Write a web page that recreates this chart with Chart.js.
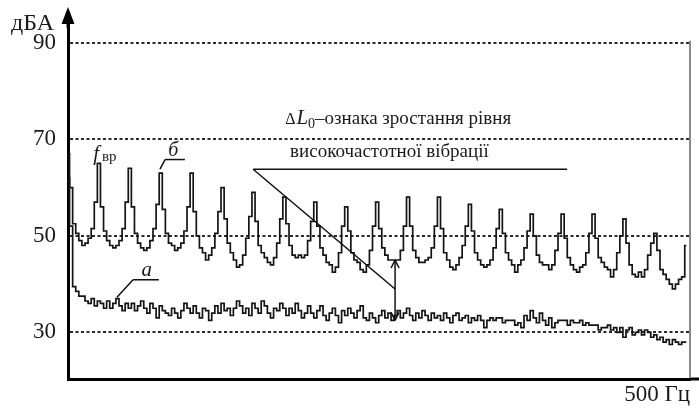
<!DOCTYPE html>
<html><head><meta charset="utf-8">
<script src="https://cdn.jsdelivr.net/npm/chart.js@4.4.1/dist/chart.umd.min.js"></script>
<style>html,body{margin:0;padding:0;background:#fff}#wrap{width:699px;height:410px;position:relative}</style>
</head><body><div id="wrap"><canvas id="c" width="699" height="410"></canvas></div>
<script>
// Frequency bin width (Hz); bins run 0..500 Hz
const BIN_HZ = 2.5;
// Y tick labels (dBA)
const yTicks = [30, 50, 70, 90];
// Curve "б": spectrum with peaks at multiples of f_вр (25 Hz)
const seriesB = [
  67, 60, 52.5, 50.5, 49, 48, 48.5, 49.5, 51.5, 57,
  65, 56, 51, 49, 48, 47.5, 48, 49, 51.5, 57,
  64, 56, 50.5, 48.5, 47.5, 47, 47.5, 49, 51.5, 56.5,
  63, 55.5, 50.5, 48.5, 48, 47, 47.5, 48.5, 51, 56,
  63, 55, 50, 47.5, 46.5, 45, 46, 47.5, 50.5, 55,
  60, 53.5, 48.5, 46.5, 45, 43.5, 44, 46, 49.5, 54,
  59, 53, 48, 46.5, 45.5, 44.5, 44, 45.5, 48.5, 53.5,
  58, 52.5, 48, 46, 45.5, 46, 45.5, 46, 49, 53,
  57, 52, 47.5, 46, 44.5, 44, 42.5, 43.5, 46.5, 52,
  56, 51, 46.5, 45, 44.5, 43, 42.5, 44, 47, 52,
  57, 51.5, 47.5, 46, 45, 45, 45, 45, 47, 52,
  58, 52, 47, 45.5, 44.5, 44.5, 45, 45.5, 47.5, 52,
  58, 51.5, 46.5, 45, 43.5, 43, 44, 45.5, 48, 52,
  56.5, 51, 46.5, 45, 44, 43.5, 44, 45, 47.5, 51.5,
  55.5, 50.5, 46.5, 45, 44, 42.5, 44, 45, 47.5, 51,
  54.5, 50, 46, 44.5, 44, 44, 43, 44, 47, 50.5,
  54.5, 49.5, 45.5, 44, 43, 42.5, 43.5, 44, 46.5, 50.5,
  54.5, 49.5, 45.5, 44.5, 43.5, 43, 41.5, 43, 46.5, 50,
  53.5, 48.5, 44, 42, 41.5, 42.5, 41.5, 43, 46, 48.5,
  50.5, 47, 43, 42, 41, 40, 39, 40, 41, 41.5,
  48
];
// Curve "а": background spectrum
const seriesA = [
  62, 52, 39.5, 38.5, 37.5, 37.5, 36.5, 36, 37, 35.5,
  36.5, 36, 35, 36.5, 35, 36, 37, 35.5, 34.5, 36,
  35, 36, 34.5, 35.5, 36.5, 35, 34, 36, 35, 33,
  35.5, 34.5, 34, 33.5, 35, 34, 33, 34.5, 36, 35,
  34, 35.5, 34, 33, 35, 34.5, 32.5, 34, 35.5, 34,
  36, 34.5, 35, 33.5, 35, 36.5, 35.5, 34, 35, 33.5,
  36, 35, 34, 36.5, 35.5, 34, 33, 35, 34.5, 36,
  35, 33.5, 35, 34, 36, 34.5, 33, 34, 35.5, 34,
  33, 34.5, 35.5, 33.5, 32.5, 34, 35, 33.5, 32, 34.5,
  33.5, 35, 34, 33, 34.5, 35.5, 33, 32.5, 34, 33,
  32, 33.5, 34.5, 33, 34, 32.5, 33.5, 34.5, 33, 34,
  35, 33.5, 32.5, 34, 33, 34.5, 33.5, 32.5, 34, 33,
  33.5, 32.5, 34, 33, 32, 33.5, 34, 32.5, 33, 33.5,
  32, 33, 32.5, 33.5, 32.5, 31, 32.5, 33, 32.5, 33,
  33, 32, 32.5, 32.5, 32.5, 31.5, 32, 31, 33.5, 32.5,
  34.5, 33, 32, 34, 32.5, 31.5, 33, 31, 32, 32.5,
  32.5, 32.5, 31.5, 32.5, 32, 32, 32.5, 31.5, 32, 31.5,
  31.5, 31.5, 30.5, 31, 31, 31.5, 30.5, 31, 30, 31,
  29, 30.5, 31, 29.5, 30, 30.5, 29.5, 30.5, 30, 29,
  29.5, 28.5, 29, 28, 28.5, 27.5, 28.5, 28, 27.5, 28,
  28
];
const freqs = seriesB.map((_, i) => i * BIN_HZ);

// Annotation anchors (data units: Hz, dBA)
const dL = { x: 264.5, top: 45, bottom: 32.5, join: 39 };
const dLead = { x0: 149.7, y0: 63.8, xEnd: 403.7 };
const FONT = '"Liberation Serif", "Times New Roman", serif';

const annPlugin = {
  id: 'ann',
  afterDraw(chart) {
    const { ctx, chartArea: ca, scales: { x, y } } = chart;
    const X = v => x.getPixelForValue(v), Y = v => y.getPixelForValue(v);
    const line = (x1, y1, x2, y2) => { ctx.beginPath(); ctx.moveTo(x1, y1); ctx.lineTo(x2, y2); ctx.stroke(); };
    ctx.save();
    // y-axis arrow
    ctx.strokeStyle = '#000'; ctx.lineWidth = 3;
    line(ca.left, ca.top + 2, ca.left, 18);
    ctx.fillStyle = '#000';
    ctx.beginPath(); ctx.moveTo(ca.left, 7); ctx.lineTo(ca.left - 6.5, 24); ctx.lineTo(ca.left + 6.5, 24); ctx.closePath(); ctx.fill();
    // x-axis extension
    line(ca.right - 1, ca.bottom, chart.width, ca.bottom);
    // right frame line
    ctx.strokeStyle = '#8a8a8a'; ctx.lineWidth = 2;
    line(ca.right, Y(90) - 2, ca.right, ca.bottom - 1);
    // unit
    ctx.fillStyle = '#1a1a1a'; ctx.textAlign = 'left'; ctx.textBaseline = 'alphabetic';
    ctx.font = '24px ' + FONT;
    ctx.fillText('дБА', 11, 30);

    // ΔL0 annotation
    ctx.strokeStyle = '#111'; ctx.lineWidth = 1.5;
    line(X(dLead.x0), Y(dLead.y0), X(dLead.xEnd), Y(dLead.y0));
    line(X(dLead.x0), Y(dLead.y0), X(dL.x), Y(dL.join));
    const ax = X(dL.x), at = Y(dL.top), ab = Y(dL.bottom);
    line(ax, at, ax, ab);
    line(ax - 4, at + 8, ax, at); line(ax + 4, at + 8, ax, at);
    line(ax - 4, ab - 8, ax, ab); line(ax + 4, ab - 8, ax, ab);

    let tx = X(175.6), ty = Y(73.2);
    ctx.font = '16px ' + FONT; ctx.fillText('Δ', tx, ty); tx += ctx.measureText('Δ').width + 1;
    ctx.font = 'italic 21px ' + FONT; ctx.fillText('L', tx, ty); tx += ctx.measureText('L').width;
    ctx.font = '14px ' + FONT; ctx.fillText('0', tx, ty + 4); tx += ctx.measureText('0').width;
    ctx.font = '19px ' + FONT; ctx.fillText('–ознака зростання рівня', tx, ty);
    ctx.fillText('високочастотної вібрації', X(179.6), Y(66.25));

    // б label
    ctx.font = 'italic 20px ' + FONT;
    ctx.fillText('б', X(81), Y(66.5));
    line(X(78.5), Y(65.8), X(94.5), Y(65.8));
    line(X(78.5), Y(65.8), X(74.4), Y(63.8));
    // а label
    ctx.font = 'italic 21px ' + FONT;
    ctx.fillText('а', X(59.5), Y(41.6));
    line(X(52.6), Y(40.9), X(73.5), Y(40.9));
    line(X(52.6), Y(40.9), X(39.6), Y(37.3));
    // f_вр label
    ctx.font = 'italic 21px ' + FONT;
    ctx.fillText('f', X(20.5), Y(65.8));
    ctx.font = '15px ' + FONT;
    ctx.fillText('вр', X(27.5), Y(65.5));
    ctx.restore();
  }
};

new Chart(document.getElementById('c'), {
  type: 'line',
  data: {
    datasets: [
      { label: 'б', data: freqs.map((f, i) => ({ x: f, y: seriesB[i] })), borderColor: '#141414', borderWidth: 1.7, pointRadius: 0, stepped: 'middle', fill: false },
      { label: 'а', data: freqs.map((f, i) => ({ x: f, y: seriesA[i] })), borderColor: '#141414', borderWidth: 1.7, pointRadius: 0, stepped: 'middle', fill: false }
    ]
  },
  options: {
    responsive: false,
    animation: false,
    events: [],
    layout: { padding: { top: 22, left: 0, right: 9, bottom: 0 } },
    plugins: { legend: { display: false }, tooltip: { enabled: false } },
    scales: {
      x: {
        type: 'linear', min: 0, max: 503,
        ticks: { display: false },
        grid: { display: false, drawTicks: false },
        border: { display: true, color: '#000', width: 3 },
        title: { display: true, text: '500 Гц', align: 'end', color: '#1a1a1a', font: { family: FONT, size: 23 }, padding: { top: 0, bottom: 1 } },
        afterFit: s => { s.height = 31; }
      },
      y: {
        type: 'linear', min: 20.35, max: 93.5,
        afterBuildTicks: s => { s.ticks = yTicks.map(v => ({ value: v })); },
        ticks: { color: '#1a1a1a', padding: 12, font: { family: FONT, size: 23 } },
        grid: { color: '#2a2a2a', lineWidth: 2, drawTicks: false },
        border: { display: true, color: '#000', width: 3, dash: [3, 2.5] },
        afterFit: s => { s.width = 68; }
      }
    }
  },
  plugins: [annPlugin]
});
</script></body></html>
